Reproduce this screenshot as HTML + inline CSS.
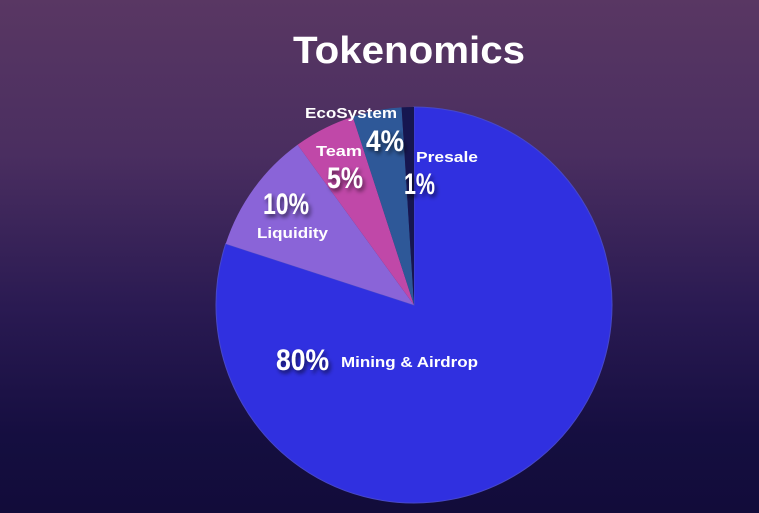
<!DOCTYPE html>
<html><head><meta charset="utf-8"><style>
html,body{margin:0;padding:0}
body{width:759px;height:513px;overflow:hidden;background:linear-gradient(180deg,#593763 0%,#4a2e60 30%,#2a1a52 60%,#150e40 85%,#120c3a 100%);position:relative}
svg{position:absolute;left:0;top:0}
</style></head><body>
<svg width="759" height="513" viewBox="0 0 759 513">
<defs><filter id="sh" x="-30%" y="-30%" width="160%" height="160%"><feDropShadow dx="2" dy="3" stdDeviation="2" flood-color="#000" flood-opacity="0.6"/></filter></defs>
<text x="293" y="63" font-family="Liberation Sans, sans-serif" font-weight="bold" font-size="38" fill="#fff" textLength="232" lengthAdjust="spacingAndGlyphs">Tokenomics</text>
<path d="M414,305 L414,107 A198,198 0 1 1 225.7,243.8 Z" fill="#3030e0" stroke="#4848c8" stroke-width="1"/>
<path d="M414,305 L225.7,243.8 A198,198 0 0 1 297.6,144.8 Z" fill="#8a64d8"/>
<path d="M414,305 L297.6,144.8 A198,198 0 0 1 352.8,116.7 Z" fill="#c048a8"/>
<path d="M414,305 L352.8,116.7 A198,198 0 0 1 401.6,107.4 Z" fill="#2e5898"/>
<path d="M414,305 L401.6,107.4 A198,198 0 0 1 414,107 Z" fill="#161650"/>
<g font-family="Liberation Sans Narrow, Liberation Sans, sans-serif" font-weight="bold" fill="#fff" filter="url(#sh)">
<text x="263" y="214" font-size="30" textLength="46" lengthAdjust="spacingAndGlyphs">10%</text>
<text x="327" y="188" font-size="30" textLength="36" lengthAdjust="spacingAndGlyphs">5%</text>
<text x="366" y="151" font-size="30" textLength="38" lengthAdjust="spacingAndGlyphs">4%</text>
<text x="404" y="194" font-size="30" textLength="31" lengthAdjust="spacingAndGlyphs">1%</text>
<text x="276" y="370" font-size="30" textLength="53" lengthAdjust="spacingAndGlyphs">80%</text>
</g>
<g font-family="Liberation Sans, sans-serif" font-weight="bold" fill="#fff" font-size="15">
<text x="305" y="118" textLength="92" lengthAdjust="spacingAndGlyphs">EcoSystem</text>
<text x="316" y="156" textLength="46" lengthAdjust="spacingAndGlyphs">Team</text>
<text x="416" y="162" textLength="62" lengthAdjust="spacingAndGlyphs">Presale</text>
<text x="257" y="238" textLength="71" lengthAdjust="spacingAndGlyphs">Liquidity</text>
<text x="341" y="367" textLength="137" lengthAdjust="spacingAndGlyphs">Mining &amp; Airdrop</text>
</g>
</svg>
</body></html>
